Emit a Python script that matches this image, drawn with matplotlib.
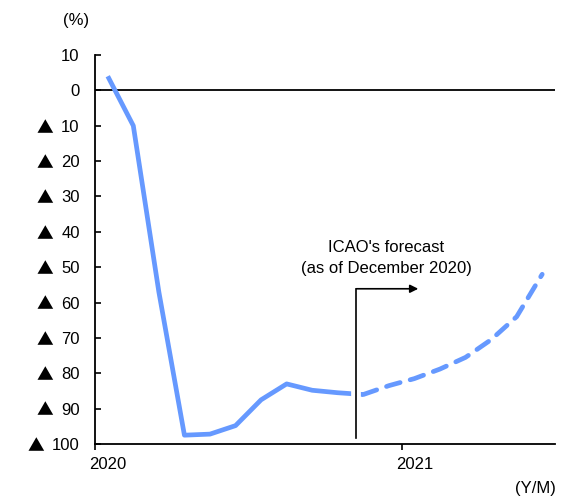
import matplotlib.pyplot as plt
from matplotlib.ticker import FixedLocator
from matplotlib.transforms import blended_transform_factory

plt.rcParams['font.family'] = ['Liberation Sans', 'DejaVu Sans']

# month index: 0 = Jan 2020 ... 17 = Jun 2021
actual_months = list(range(0, 11))          # Jan 2020 - Nov 2020
actual_values = [4, -10, -57, -97.5, -97.2, -94.8, -87.5, -83, -84.8, -85.5, -86]
forecast_months = list(range(10, 18))       # Nov 2020 - Jun 2021
forecast_values = [-86, -83.5, -81.5, -78.8, -75.5, -70.5, -64, -52]

year_labels = ["2020", "2021"]
year_label_pos = [0, 12]
year_tick_pos = [-0.5, 11.5]
y_ticks = list(range(-100, 11, 10))
y_labels = [str(abs(v)) for v in y_ticks]

blue = "#6699FF"

fig = plt.figure(figsize=(5.64, 4.97), dpi=100)
ax = fig.add_axes([0.1684, 0.1066, 0.8156, 0.7827])

ax.axhline(0, color="black", lw=1.3, zorder=1)
ax.plot(actual_months, actual_values, color=blue, lw=3.4, solid_capstyle="butt", zorder=3)
ax.plot(forecast_months, forecast_values, color=blue, lw=3.4,
        ls=(0, (3, 2.2)), dash_capstyle="round", zorder=3)

ax.set_xlim(-0.5, 17.5)
ax.set_ylim(-100, 10)

ax.set_yticks(y_ticks)
ax.set_yticklabels(y_labels, fontsize=12)
ax.tick_params(axis="y", direction="in", length=4, width=1.2, pad=11)

# negative values are written with a leading triangle
trans = blended_transform_factory(ax.transAxes, ax.transData)
for v, lab in zip(y_ticks, y_labels):
    if v < 0:
        off = 15 + len(lab) * 9.3 + 8
        ax.annotate("▲", xy=(0, v), xycoords=trans, xytext=(-off, -2.5),
                    textcoords="offset pixels", ha="right", va="center",
                    fontsize=12, family=["Noto Sans CJK JP", "DejaVu Sans"])

ax.xaxis.set_major_locator(FixedLocator(year_tick_pos))
ax.set_xticklabels([])
ax.xaxis.set_minor_locator(FixedLocator(year_label_pos))
ax.set_xticklabels(year_labels, minor=True, fontsize=12)
ax.tick_params(axis="x", which="major", direction="out", length=4, width=1.2)
ax.tick_params(axis="x", which="minor", length=0, pad=9)

for side in ("top", "right"):
    ax.spines[side].set_visible(False)
for side in ("left", "bottom"):
    ax.spines[side].set_linewidth(1.3)

# forecast marker: white gap where it crosses the line, then the bent arrow
ax.plot([9.73, 9.73], [-95, -75], color="white", lw=7, zorder=4, solid_capstyle="butt")
ax.plot([9.73, 9.73], [-98.3, -56.1], color="black", lw=1.2, zorder=5)
ax.annotate("", xy=(12.15, -56.1), xytext=(9.73, -56.1),
            arrowprops=dict(arrowstyle="-|>", color="black", lw=1.2,
                            mutation_scale=12, shrinkA=0, shrinkB=0), zorder=5)
ax.text(10.9, -47.4, "ICAO's forecast\n(as of December 2020)", ha="center", va="center",
        fontsize=12, linespacing=1.5)

fig.text(76 / 564, 1 - 20 / 497, "(%)", ha="center", va="center", fontsize=12)
fig.text(535 / 564, 1 - 489 / 497, "(Y/M)", ha="center", va="center", fontsize=12)

fig.savefig("out.png", dpi=100)
